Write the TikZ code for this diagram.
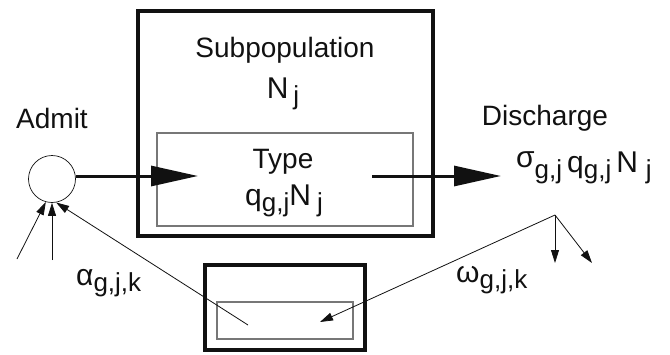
\documentclass[tikz,border=0pt]{standalone}
\usepackage{fontspec}
\setmainfont{Liberation Sans}
\usetikzlibrary{arrows.meta}
\definecolor{inkblack}{HTML}{111111}
\definecolor{framegray}{HTML}{777777}
\newcommand{\sub}[1]{\raisebox{-6pt}{\fontsize{26}{26}\selectfont #1}}
\newcommand{\up}[1]{\raisebox{5pt}{#1}}

\begin{document}
\begin{tikzpicture}[
  x=1pt,y=-1pt,
  every node/.style={font=\fontsize{28}{32}\selectfont,text=inkblack,inner sep=0pt},
  lbl/.style={anchor=base},
  sym/.style={font=\fontsize{30}{32}\selectfont},
  thickbox/.style={draw=inkblack,line width=3.6pt},
  thinbox/.style={draw=framegray,line width=1.1pt},
  flow/.style={draw=inkblack,line width=3pt,-{Triangle[length=47pt,width=20pt]}},
  rate/.style={draw=inkblack,line width=0.8pt,-{Triangle[length=13pt,width=8pt]}}
]

% ---- canvas ----
\useasboundingbox (0,0) rectangle (670,354);

% ---- subpopulation box ----
\draw[thickbox] (138,11) rectangle (433,236);
\draw[thinbox] (157,133) rectangle (413,226);
\node[lbl] (subpop) at (285,57) {Subpopulation};
\node[lbl,sym] (popN) at (283,98) {N\hspace{5pt}\sub{j}};
\node[lbl] (type) at (283,168) {Type};
\node[lbl,sym] (typeq) at (284,205) {q\sub{g,j}N\hspace{6pt}\sub{j}};

% ---- admission ----
\node[circle,draw=inkblack,line width=0.7pt,minimum size=47pt] (admit) at (52,179) {};
\node[lbl] (admitlbl) at (52,128) {Admit};

% ---- destination box (lower) ----
\draw[thickbox] (205,265) rectangle (365,350);
\draw[thinbox] (217,302) rectangle (353,339);

% ---- discharge ----
\node[lbl] (dischlbl) at (545,125) {Discharge};
\node[anchor=base west,sym] (dischq) at (516,172)
  {\up{σ}\sub{g,j}\,q\sub{g,j}\,N\hspace{8pt}\sub{j}};

% ---- flow arrows ----
\coordinate (typein) at (198,176);
\coordinate (typeout) at (372,176);
\coordinate (dischin) at (501,176);
\draw[flow] (admit.east |- typein) -- (typein);
\draw[flow] (typeout) -- (dischin);

% ---- transfer rates ----
\coordinate (split) at (555,215);
\coordinate (outA) at (555,263);
\coordinate (outB) at (592,263);
\coordinate (destin) at (320,322);
\coordinate (destout) at (248,325);
\coordinate (srcA) at (17,259);
\coordinate (srcB) at (52,260);
\draw[rate] (split) -- (outA);
\draw[rate] (split) -- (outB);
\draw[rate] (split) -- (destin);
\draw[rate] (destout) -- (admit.-80);
\draw[rate] (srcA) -- (admit.-105);
\draw[rate] (srcB) -- (admit.-90);
\node[anchor=base west,sym] (alpha) at (76,285) {α\sub{g,j,k}};
\node[anchor=base west,sym] (omega) at (456,282) {ω\sub{g,j,k}};

\end{tikzpicture}
\end{document}
